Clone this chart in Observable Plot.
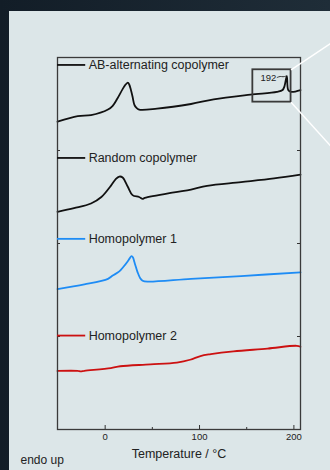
<!DOCTYPE html>
<html><head><meta charset="utf-8">
<script src="https://cdn.jsdelivr.net/npm/d3@7"></script>
<script src="https://cdn.jsdelivr.net/npm/@observablehq/plot@0.6"></script>
<style>
html,body{margin:0;padding:0;width:330px;height:470px;overflow:hidden;background:linear-gradient(90deg,#121d27,#1f2d38);}
#panel{position:absolute;left:9px;top:11px;width:321px;height:459px;background:#dce6e8;}
#panel svg{display:block;}
</style></head><body><div id="panel"></div>
<script>
// Series names
const seriesNames = ["AB-alternating copolymer", "Random copolymer", "Homopolymer 1", "Homopolymer 2"];

// Temperature (°C) and heat flow (offset, a.u.)
const abT  = [-50.5,-29,-15,3,8,13,18.5,21,24,25.5,27.3,29,31,33,36,55,91,115,154,182,188,190,192.5,194,197,207];
const abHF = [3.31,3.37,3.38,3.44,3.48,3.56,3.66,3.70,3.73,3.71,3.65,3.58,3.49,3.46,3.44,3.45,3.50,3.55,3.60,3.63,3.65,3.69,3.80,3.65,3.63,3.65];

const rcT  = [-50.5,-33,-15,-4,6,11,15,18.5,24,29,36,39.7,42,73,91,108,144,179,207];
const rcHF = [2.34,2.38,2.43,2.50,2.62,2.69,2.72,2.71,2.61,2.52,2.50,2.48,2.49,2.55,2.58,2.62,2.66,2.70,2.74];

const h1T  = [-50.5,-22,3,8,15,19,24,26,28,29.5,31,32.5,34.4,37,39.7,45,91,144,207];
const h1HF = [1.51,1.56,1.62,1.655,1.70,1.745,1.81,1.84,1.865,1.85,1.80,1.75,1.69,1.63,1.60,1.59,1.62,1.65,1.69];

const h2T  = [-50.5,-29,-26,-22,6,16,48,76,90,101,112,136,172,203,207];
const h2HF = [0.63,0.63,0.624,0.63,0.66,0.68,0.70,0.72,0.75,0.79,0.81,0.84,0.87,0.90,0.89];

// Axis ticks
const xMajor = [0, 100, 200];
const xMinor = [50, 150];
const yTicks = [1, 2, 3];
const xTitle = "Temperature / °C";
const yNote = "endo up";

// Zoomed region and peak annotation
const insetT = [156.5, 197];
const insetHF = [3.52, 3.868];
const peakT = 192;

const seriesT = [abT, rcT, h1T, h2T];
const seriesHF = [abHF, rcHF, h1HF, h2HF];
const colors = ["#111111", "#111111", "#1e8cf5", "#cc1111"];
const rows = seriesNames.flatMap((name, i) => seriesT[i].map((t, j) => ({name, t, hf: seriesHF[i][j]})));

const legendLevel = [3.92, 2.92, 2.05, 1.01];
const legendRows = seriesNames.map((name, i) => ({name, y: legendLevel[i], c: colors[i]}));

const xMin = -50.5, xMax = 207;
const tickC = "#333";

const chart = Plot.plot({
  width: 321, height: 459,
  marginLeft: 48, marginRight: 30, marginTop: 46, marginBottom: 41,
  x: {domain: [xMin, xMax], axis: null},
  y: {domain: [0, 4], axis: null},
  color: {domain: seriesNames, range: colors},
  style: {background: "transparent", fontFamily: "'Liberation Sans', Arial, sans-serif", color: "#222"},
  marks: [
    Plot.line(rows, {x: "t", y: "hf", z: "name", stroke: "name", strokeWidth: 1.8, curve: "catmull-rom"}),
    // inward ticks
    Plot.tickX(xMajor, {x: d => d, insetTop: 368, stroke: tickC}),
    Plot.tickX(xMinor, {x: d => d, insetTop: 370, stroke: tickC}),
    Plot.tickY(yTicks, {y: d => d, insetRight: 240, stroke: tickC}),
    Plot.tickY(yTicks, {y: d => d, insetLeft: 240, stroke: tickC}),
    Plot.frame({stroke: "#3a3a3a", strokeWidth: 1.3}),
    // legend
    Plot.ruleY(legendRows, {y: "y", x1: () => xMin, x2: () => -20.6, stroke: "c", strokeWidth: 1.8}),
    Plot.text(legendRows, {y: "y", x: () => -17.5, text: "name", textAnchor: "start", fontSize: 12.5, fill: "#222"}),
    // zoom box and connectors
    Plot.rect([0], {x1: () => insetT[0], x2: () => insetT[1], y1: () => insetHF[0], y2: () => insetHF[1], fill: "none", stroke: "#3a3a3a", strokeWidth: 1.8}),
    Plot.link([[4.15], [3.05]], {x1: () => insetT[1], y1: (d, i) => insetHF[1 - i], x2: () => 238.8, y2: d => d[0], stroke: "white", strokeWidth: 1.5}),
    Plot.text([peakT], {x: d => d, y: () => 3.785, text: d => String(d), dx: -10, textAnchor: "end", fontSize: 9.5, fill: "#222"}),
    Plot.line([[182.3, 3.785], [185.5, 3.80], [188.5, 3.79], [191.6, 3.80]], {x: d => d[0], y: d => d[1], stroke: "#222", strokeWidth: 0.9, curve: "basis"}),
    // axis labels
    Plot.text(xMajor, {x: d => d, frameAnchor: "bottom", dy: 10, text: d => String(d), fontSize: 9.5, fill: "#222"}),
    Plot.text([xTitle], {frameAnchor: "bottom", dy: 28, text: d => d, fontSize: 12.5, fill: "#222"}),
    Plot.text([yNote], {frameAnchor: "bottom-left", dx: -37, dy: 34, text: d => d, textAnchor: "start", fontSize: 12, fill: "#222"})
  ]
});
document.getElementById("panel").appendChild(chart);
</script></body></html>
